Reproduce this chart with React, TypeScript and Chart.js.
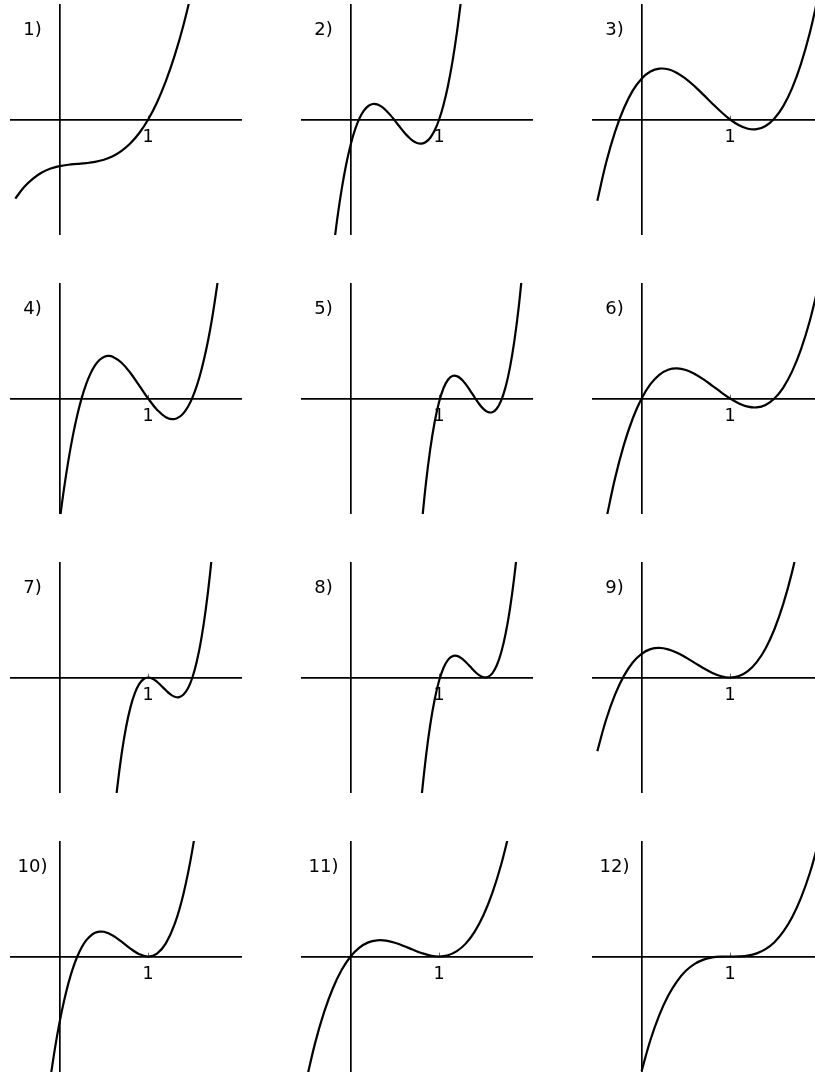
import React, { useEffect, useRef } from 'react';
import { Chart, registerables } from 'chart.js';

Chart.register(...registerables);

type Pt = [number, number];

const panelLabels = ['1)', '2)', '3)', '4)', '5)', '6)', '7)', '8)', '9)', '10)', '11)', '12)'];
const tickValues = [1];
const tickLabels = ['1'];

const curve1: Pt[] = [[-0.5,-0.89],[-0.4,-0.76],[-0.3,-0.665],[-0.2,-0.597],[-0.1,-0.552],[0,-0.525],[0.1,-0.509],[0.2,-0.5],[0.3,-0.491],[0.4,-0.477],[0.5,-0.453],[0.6,-0.414],[0.7,-0.354],[0.8,-0.268],[0.9,-0.152],[1.0,0],[1.1,0.192],[1.2,0.431],[1.3,0.721],[1.4,1.067],[1.5,1.474]];
const curve2: Pt[] = [[-0.2,-1.509],[-0.15,-1.113],[-0.1,-0.781],[-0.05,-0.506],[0,-0.286],[0.05,-0.114],[0.1,0.013],[0.15,0.1],[0.2,0.152],[0.25,0.174],[0.3,0.17],[0.35,0.144],[0.4,0.102],[0.45,0.049],[0.5,-0.013],[0.55,-0.076],[0.6,-0.138],[0.65,-0.193],[0.7,-0.237],[0.75,-0.264],[0.8,-0.271],[0.85,-0.253],[0.9,-0.205],[0.95,-0.122],[1.0,0],[1.05,0.166],[1.1,0.38],[1.15,0.648],[1.2,0.974],[1.25,1.362]];
const curve3: Pt[] = [[-0.5,-0.914],[-0.4,-0.485],[-0.3,-0.14],[-0.2,0.127],[-0.1,0.325],[0,0.46],[0.1,0.54],[0.2,0.572],[0.3,0.565],[0.4,0.524],[0.5,0.457],[0.6,0.373],[0.7,0.277],[0.8,0.178],[0.9,0.084],[1.0,0],[1.1,-0.065],[1.2,-0.104],[1.3,-0.109],[1.4,-0.073],[1.5,0.011],[1.6,0.15],[1.7,0.353],[1.8,0.626],[1.9,0.976],[2.0,1.412]];
const curve4: Pt[] = [[0,-1.384],[0.05,-1.015],[0.1,-0.694],[0.15,-0.418],[0.2,-0.186],[0.25,0.007],[0.3,0.162],[0.35,0.283],[0.4,0.373],[0.45,0.433],[0.5,0.468],[0.55,0.48],[0.6,0.471],[0.7,0.403],[0.8,0.287],[0.9,0.145],[1.0,0],[1.1,-0.126],[1.2,-0.21],[1.3,-0.231],[1.4,-0.165],[1.5,0.009],[1.6,0.315],[1.7,0.773],[1.8,1.408]];
const curve5: Pt[] = [[0.8,-1.452],[0.85,-0.96],[0.9,-0.566],[0.95,-0.262],[1.0,-0.037],[1.05,0.118],[1.1,0.211],[1.15,0.253],[1.2,0.252],[1.25,0.218],[1.3,0.161],[1.35,0.089],[1.4,0.013],[1.45,-0.059],[1.5,-0.117],[1.55,-0.152],[1.6,-0.154],[1.65,-0.115],[1.7,-0.024],[1.75,0.128],[1.8,0.35],[1.85,0.651],[1.9,1.041],[1.95,1.529]];
const curve6: Pt[] = [[-0.4,-1.362],[-0.3,-0.899],[-0.2,-0.522],[-0.1,-0.225],[0,0],[0.1,0.161],[0.2,0.266],[0.3,0.323],[0.4,0.338],[0.5,0.32],[0.6,0.276],[0.7,0.215],[0.8,0.143],[0.9,0.069],[1.0,0],[1.1,-0.056],[1.2,-0.092],[1.3,-0.1],[1.4,-0.072],[1.5,0],[1.6,0.123],[1.7,0.305],[1.8,0.553],[1.9,0.876],[2.0,1.28]];
const curve7: Pt[] = [[0.6,-1.728],[0.65,-1.25],[0.7,-0.864],[0.75,-0.563],[0.8,-0.336],[0.85,-0.176],[0.9,-0.072],[0.95,-0.017],[1.0,0],[1.05,-0.014],[1.1,-0.048],[1.15,-0.095],[1.2,-0.144],[1.25,-0.188],[1.3,-0.216],[1.35,-0.221],[1.4,-0.192],[1.45,-0.122],[1.5,0],[1.55,0.182],[1.6,0.432],[1.65,0.761],[1.7,1.176],[1.75,1.688]];
const curve8: Pt[] = [[0.75,-1.927],[0.8,-1.361],[0.85,-0.898],[0.9,-0.529],[0.95,-0.244],[1.0,-0.034],[1.05,0.11],[1.1,0.198],[1.15,0.24],[1.2,0.243],[1.25,0.219],[1.3,0.175],[1.35,0.123],[1.4,0.07],[1.45,0.027],[1.5,0.003],[1.55,0.006],[1.6,0.047],[1.65,0.135],[1.7,0.279],[1.75,0.489],[1.8,0.774],[1.85,1.143],[1.9,1.606]];
const curve9: Pt[] = [[-0.5,-0.829],[-0.4,-0.473],[-0.3,-0.193],[-0.2,0.018],[-0.1,0.169],[0,0.267],[0.1,0.319],[0.2,0.333],[0.3,0.317],[0.4,0.279],[0.5,0.225],[0.6,0.165],[0.7,0.104],[0.8,0.051],[0.9,0.014],[1.0,0],[1.1,0.017],[1.2,0.072],[1.3,0.173],[1.4,0.327],[1.5,0.543],[1.6,0.828],[1.7,1.189],[1.8,1.634]];
const curve10: Pt[] = [[-0.1,-1.343],[-0.05,-1.02],[0,-0.74],[0.05,-0.501],[0.1,-0.3],[0.15,-0.134],[0.2,0],[0.25,0.104],[0.3,0.181],[0.35,0.233],[0.4,0.266],[0.45,0.279],[0.5,0.278],[0.6,0.237],[0.7,0.167],[0.8,0.089],[0.9,0.026],[1.0,0],[1.1,0.033],[1.2,0.148],[1.3,0.366],[1.4,0.71],[1.5,1.203],[1.6,1.865]];
const curve11: Pt[] = [[-0.5,-1.395],[-0.4,-0.972],[-0.3,-0.629],[-0.2,-0.357],[-0.1,-0.15],[0,0],[0.1,0.1],[0.2,0.159],[0.3,0.182],[0.4,0.179],[0.5,0.155],[0.6,0.119],[0.7,0.078],[0.8,0.04],[0.9,0.011],[1.0,0],[1.1,0.014],[1.2,0.06],[1.3,0.145],[1.4,0.278],[1.5,0.465],[1.6,0.714],[1.7,1.033],[1.8,1.428]];
const curve12: Pt[] = [[0,-1.29],[0.1,-0.94],[0.2,-0.66],[0.3,-0.442],[0.4,-0.279],[0.5,-0.161],[0.6,-0.083],[0.7,-0.035],[0.8,-0.01],[0.9,-0.001],[1.0,0],[1.1,0.001],[1.2,0.01],[1.3,0.035],[1.4,0.083],[1.5,0.161],[1.6,0.279],[1.7,0.442],[1.8,0.66],[1.9,0.94],[2.0,1.29]];

const curves: Pt[][] = [curve1, curve2, curve3, curve4, curve5, curve6, curve7, curve8, curve9, curve10, curve11, curve12];

const FONT = '"DejaVu Sans", "Liberation Sans", sans-serif';
const PANEL_W = 232;
const PANEL_H = 231;
const COL_LEFT = [10, 301, 592];
const ROW_TOP = [4, 283, 562, 841];

const panelLabelPlugin = {
  id: 'panelLabel',
  afterDraw(chart: any, _args: any, opts: any) {
    const { ctx, chartArea } = chart;
    ctx.save();
    ctx.font = `18px ${FONT}`;
    ctx.fillStyle = '#000';
    ctx.textAlign = 'center';
    ctx.textBaseline = 'middle';
    ctx.fillText(opts.text, chartArea.left + 22.5, chartArea.top + 26.5);
    ctx.restore();
  },
};

function Panel({ index }: { index: number }) {
  const ref = useRef<HTMLCanvasElement>(null);
  useEffect(() => {
    const canvas = ref.current;
    if (!canvas) return;
    const chart = new Chart(canvas, {
      type: 'line',
      data: {
        datasets: [
          {
            data: curves[index].map(([x, y]) => ({ x, y })),
            borderColor: '#000',
            borderWidth: 2.2,
            pointRadius: 0,
            fill: false,
            tension: 0.4,
            cubicInterpolationMode: 'default',
            clip: 0,
          } as any,
        ],
      },
      options: {
        animation: false,
        responsive: false,
        maintainAspectRatio: false,
        events: [],
        layout: { padding: 0 },
        elements: { line: { capBezierPoints: false } },
        plugins: {
          legend: { display: false },
          tooltip: { enabled: false },
          panelLabel: { text: panelLabels[index] },
        } as any,
        scales: {
          x: {
            type: 'linear',
            min: -0.56,
            max: 2.06,
            position: { y: 0 } as any,
            afterBuildTicks: (scale: any) => {
              scale.ticks = tickValues.map((v) => ({ value: v }));
            },
            grid: {
              display: true,
              drawOnChartArea: false,
              drawTicks: true,
              tickLength: -5,
              color: '#666',
              lineWidth: 1,
            },
            border: { display: true, color: '#000', width: 1.7 },
            ticks: {
              color: '#000',
              font: { family: FONT, size: 17.5 },
              padding: 12,
              maxRotation: 0,
              autoSkip: false,
              callback: (_v: any, i: number) => tickLabels[i],
            },
          },
          y: {
            type: 'linear',
            min: -1.3,
            max: 1.3,
            position: { x: 0 } as any,
            grid: { display: false, drawTicks: false },
            border: { display: true, color: '#000', width: 1.7 },
            ticks: { display: false },
          },
        },
      } as any,
      plugins: [panelLabelPlugin],
    });
    return () => chart.destroy();
  }, [index]);

  const col = index % 3;
  const row = Math.floor(index / 3);
  return (
    <canvas
      ref={ref}
      width={PANEL_W}
      height={PANEL_H}
      style={{
        position: 'absolute',
        left: COL_LEFT[col],
        top: ROW_TOP[row],
        width: PANEL_W,
        height: PANEL_H,
      }}
    />
  );
}

export default function App() {
  return (
    <div
      style={{
        position: 'fixed',
        left: 0,
        top: 0,
        width: 815,
        height: 1076,
        overflow: 'hidden',
        background: '#fff',
      }}
    >
      {curves.map((_, i) => (
        <Panel key={i} index={i} />
      ))}
    </div>
  );
}
